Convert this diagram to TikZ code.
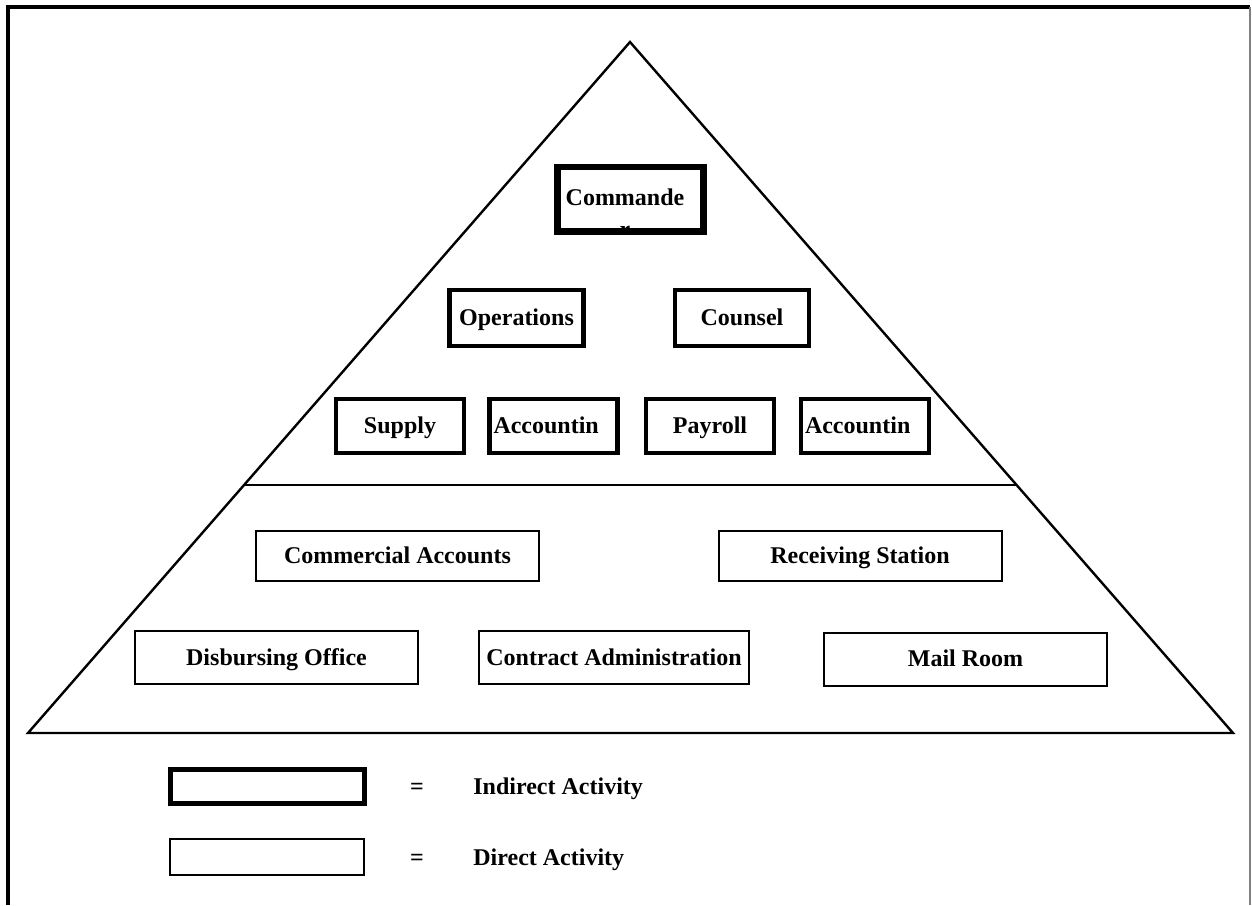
\documentclass[tikz,border=0pt]{standalone}
\usepackage{fontspec}
\setmainfont{Liberation Serif}
\usetikzlibrary{calc}
\tikzset{
	txt/.style={text height=10pt, text depth=2.5pt},
	indirect/.style={draw, txt, line width=2.25pt, minimum width=64pt, minimum height=27pt, inner sep=2pt},
	direct/.style={draw, txt, line width=1pt, minimum width=141.5pt, minimum height=25pt, inner sep=2pt},
	lefttxt/.style={text width=60pt, align=left},
	tri/.style={line width=1.2pt, line join=miter},
}
\begin{document}
\begin{tikzpicture}[x=0.5pt, y=-0.5pt, every node/.style={font=\bfseries\fontsize{12}{13.8}\selectfont}]
	\useasboundingbox (0,0) rectangle (1252,905);
	% frame
	\coordinate (f1) at (8,905);
	\coordinate (f2) at (8,7);
	\coordinate (f3) at (1250,7);
	\coordinate (f4) at (1250,905);
	\draw[line width=1.6pt] (f1) -- (f2) -- (f3);
	\draw[gray, line width=0.7pt] (f3) -- (f4);
	% pyramid
	\coordinate (apex) at (630,42);
	\coordinate (bl) at (28,733);
	\coordinate (br) at (1233,733);
	\coordinate (dl) at ($(apex)!0.641!(bl)$);
	\coordinate (dr) at ($(apex)!0.641!(br)$);
	\draw[tri] (apex) -- (bl) -- (br) -- cycle;
	\draw[tri] (dl) -- (dr);
	% indirect activities
	\node[indirect, minimum width=72pt, minimum height=31pt] (cmd) at (630.5,199) {};
	\begin{scope}
		\clip (cmd.south west) rectangle (cmd.north east);
		\node[align=center, inner sep=0pt] (cmdtext) at (625,213) {Commande\\[2pt]r};
	\end{scope}
	\draw[line width=2.25pt] (cmd.south west) rectangle (cmd.north east);
	\node[indirect, minimum width=67pt, minimum height=28pt] (ops) at (516.5,318) {Operations};
	\node[indirect, minimum width=67pt, minimum height=28pt] (cns) at (742,318) {Counsel};
	\node[indirect] (sup) at (400,426) {Supply};
	\node[indirect, lefttxt] (acc1) at (553.5,426) {Accountin};
	\node[indirect] (pay) at (710,426) {Payroll};
	\node[indirect, lefttxt] (acc2) at (865,426) {Accountin};
	% direct activities
	\node[direct] (com) at (397.5,556) {Commercial Accounts};
	\node[direct] (rcv) at (860,556) {Receiving Station};
	\node[direct, minimum height=26.5pt] (dsb) at (276.5,657.5) {Disbursing Office};
	\node[direct, minimum width=135pt, minimum height=26.5pt] (cad) at (614,657.5) {Contract Administration};
	\node[direct, minimum height=26.5pt] (mail) at (965.5,659) {Mail Room};
	% legend
	\node[draw, line width=2.4pt, minimum width=97pt, minimum height=17pt] (keyind) at (267.5,786.5) {};
	\node[draw, line width=1pt, minimum width=97pt, minimum height=18pt] (keydir) at (267,857) {};
	\node[txt] (eq1) at (417,787) {=};
	\node[txt] (eq2) at (417,858) {=};
	\node[txt, anchor=west, inner sep=0pt] (lind) at (473,787) {Indirect Activity};
	\node[txt, anchor=west, inner sep=0pt] (ldir) at (473,858) {Direct Activity};
\end{tikzpicture}
\end{document}
